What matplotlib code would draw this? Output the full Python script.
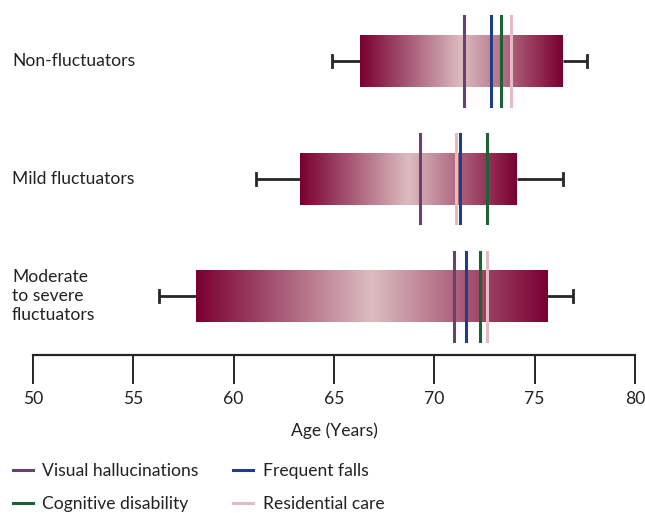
import numpy as np
import matplotlib
matplotlib.use('Agg')
import matplotlib.pyplot as plt
from matplotlib.colors import LinearSegmentedColormap
from matplotlib.lines import Line2D
import matplotlib.transforms as mtransforms

# Gruplar (yukaridan asagiya)
groups = ['Non-fluctuators', 'Mild fluctuators', 'Moderate\nto severe\nfluctuators']
box_lo = [66.3, 63.3, 58.1]
box_hi = [76.4, 74.1, 75.6]
whisk_lo = [64.9, 61.1, 56.3]
whisk_hi = [77.6, 76.4, 76.9]

# Olay yaslari
features = ['Visual hallucinations', 'Cognitive disability', 'Frequent falls', 'Residential care']
visual_halluc = [71.5, 69.3, 71.0]
cognitive_dis = [73.3, 72.6, 72.3]
frequent_falls = [72.8, 71.3, 71.6]
residential = [73.8, 71.1, 72.6]
feature_colors = ['#6b3f6e', '#1b6236', '#1f3f82', '#e3bcc4']

xticks = [50, 55, 60, 65, 70, 75, 80]

plt.rcParams['font.family'] = ['Lato', 'DejaVu Sans']
fs = 12.6

fig = plt.figure(figsize=(6.45, 5.13), dpi=100)
ax = fig.add_axes([33 / 645, 1 - 355 / 513, 602 / 645, 355 / 513])

grad_cmap = LinearSegmentedColormap.from_list('grad', ['#7a0032', '#dcbcc0', '#7a0032'])
grad = np.linspace(0, 1, 256).reshape(1, -1)

half_box = 0.22
ink = '#262626'
for i in range(len(groups)):
    # whiskers
    ax.plot([whisk_lo[i], box_lo[i]], [i, i], color=ink, lw=2, solid_capstyle='butt', zorder=1)
    ax.plot([box_hi[i], whisk_hi[i]], [i, i], color=ink, lw=2, solid_capstyle='butt', zorder=1)
    ax.plot([whisk_lo[i], whisk_lo[i]], [i - 0.05, i + 0.05], color=ink, lw=2, zorder=1)
    ax.plot([whisk_hi[i], whisk_hi[i]], [i - 0.05, i + 0.05], color=ink, lw=2, zorder=1)
    # gradient box
    ax.imshow(grad, cmap=grad_cmap, aspect='auto', interpolation='bilinear',
              extent=[box_lo[i], box_hi[i], i + half_box, i - half_box], zorder=2)

all_feats = [visual_halluc, cognitive_dis, frequent_falls, residential]
for vals, col, name in zip(all_feats, feature_colors, features):
    for i, v in enumerate(vals):
        ax.plot([v, v], [i - 0.38, i + 0.38], color=col, lw=2.2, zorder=3)

ax.set_xlim(50, 80)
ax.set_ylim(2.5, -0.52)
for s in ['top', 'left', 'right']:
    ax.spines[s].set_visible(False)
ax.spines['bottom'].set_linewidth(1.6)
ax.spines['bottom'].set_color(ink)
ax.set_yticks([])
ax.set_xticks(xticks)
ax.tick_params(axis='x', direction='out', length=21, width=1.4, color=ink,
               labelsize=fs, pad=5, labelcolor='#222222')
ax.set_xlabel('Age (Years)', fontsize=fs, labelpad=11, color='#222222')

trans = mtransforms.blended_transform_factory(fig.transFigure, ax.transData)
for i, g in enumerate(groups):
    ax.text(12 / 645, i, g, transform=trans, ha='left', va='center',
            fontsize=fs, color='#222222', linespacing=1.25)

handles = [Line2D([], [], color=c, lw=2.2) for c in feature_colors]
fig.legend(handles, features, loc='upper left', bbox_to_anchor=(4 / 645, 1 - 454 / 513),
           ncol=2, frameon=False, fontsize=fs, handlelength=1.15, handletextpad=0.55,
           columnspacing=1.95, labelspacing=0.98, borderaxespad=0.3, borderpad=0.2,
           labelcolor='#222222')

fig.savefig('out.png', dpi=100)
